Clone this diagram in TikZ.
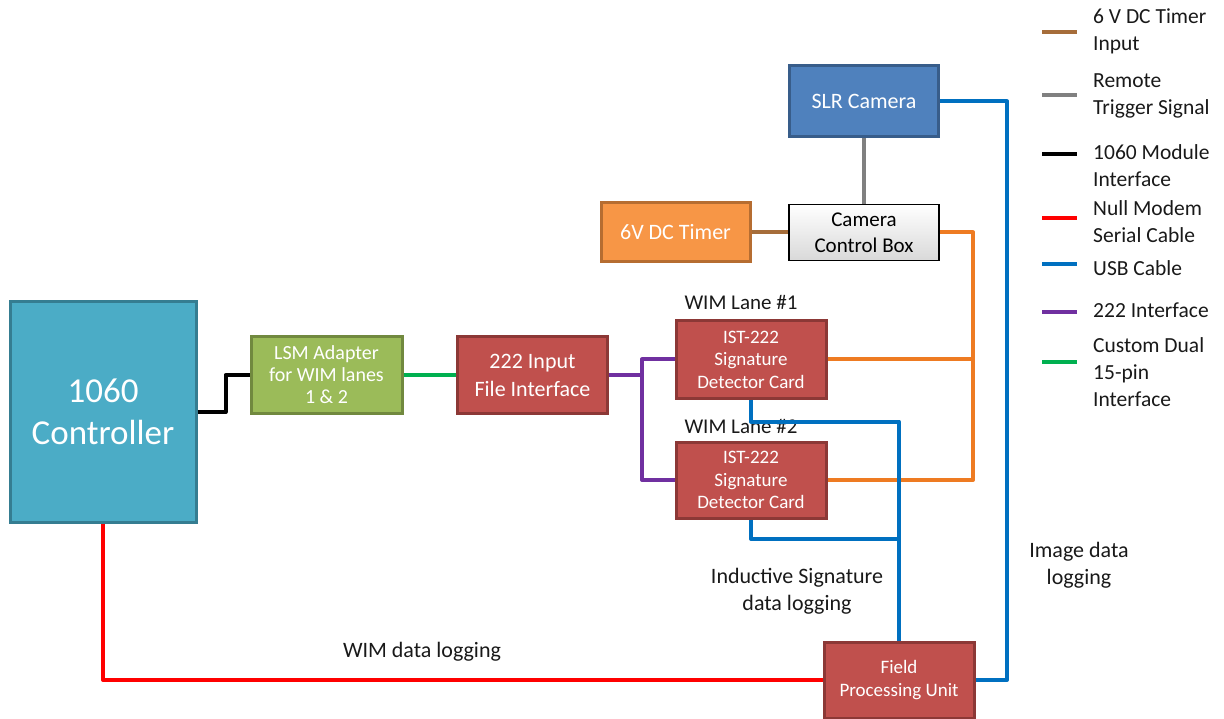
\documentclass[tikz,border=0pt]{standalone}
\usepackage{fontspec}
\setmainfont{Carlito}
\usetikzlibrary{calc}
\definecolor{cAqua}{HTML}{4BACC6}
\definecolor{cAquaD}{HTML}{357D91}
\definecolor{cGreenF}{HTML}{9BBB59}
\definecolor{cGreenD}{HTML}{71893F}
\definecolor{cRedF}{HTML}{C0504D}
\definecolor{cRedD}{HTML}{8C3836}
\definecolor{cBlueF}{HTML}{4F81BD}
\definecolor{cBlueD}{HTML}{385D8A}
\definecolor{cOrgF}{HTML}{F79646}
\definecolor{cOrgD}{HTML}{B66D31}
\definecolor{lBrown}{HTML}{A66D3A}
\definecolor{lGray}{HTML}{808080}
\definecolor{lRed}{HTML}{FF0000}
\definecolor{lBlue}{HTML}{0070C0}
\definecolor{lPurple}{HTML}{7030A0}
\definecolor{lGreen}{HTML}{00B050}
\definecolor{lOrange}{HTML}{EE7B22}
\begin{document}
\begin{tikzpicture}[x=1pt,y=-1pt,
  box/.style={draw, line width=3pt, text=white, align=center, inner sep=0pt},
  ctrlbox/.style={box, fill=cAqua, draw=cAquaD, minimum width=186pt, minimum height=220pt, font=\fontsize{35}{42}\selectfont},
  lsmbox/.style={box, fill=cGreenF, draw=cGreenD, minimum width=151pt, minimum height=76pt, font=\fontsize{20}{22}\selectfont},
  redbox/.style={box, fill=cRedF, draw=cRedD, minimum width=150pt, minimum height=76pt},
  slrbox/.style={box, fill=cBlueF, draw=cBlueD, minimum width=149pt, minimum height=71pt, font=\fontsize{22}{26}\selectfont},
  timerbox/.style={box, fill=cOrgF, draw=cOrgD, minimum width=149pt, minimum height=59pt, font=\fontsize{22}{26}\selectfont},
  ccbox/.style={draw=black, line width=1.8pt, top color=white, bottom color=black!15, align=center, inner sep=0pt, minimum width=150pt, minimum height=56pt, font=\fontsize{21}{26}\selectfont},
  lbl/.style={align=center, text=black!90, font=\fontsize{22}{27}\selectfont},
  leg/.style={anchor=west, align=left, text=black!90, inner sep=0pt, font=\fontsize{21.5}{27}\selectfont},
  wire/.style={line width=4pt, line join=round},
]
\useasboundingbox (0,0) rectangle (1224,719);

% nodes
\node[ctrlbox] (ctrl) at (103,412) {1060\\Controller};
\node[lsmbox] (lsm) at (326.5,375) {LSM Adapter\\for WIM lanes\\1 \& 2};
\node[redbox, font=\fontsize{22}{28}\selectfont] (inp) at (532.5,375) {222 Input\\File Interface};
\node[redbox, minimum height=77pt, font=\fontsize{19}{22.5}\selectfont] (card1) at (751,359.5) {IST-222\\Signature\\Detector Card};
\node[redbox, font=\fontsize{19}{22.5}\selectfont] (card2) at (751,480) {IST-222\\Signature\\Detector Card};
\node[slrbox] (slr) at (864,101.5) {SLR Camera};
\node[ccbox] (ccb) at (864,232.5) {Camera\\Control Box};
\node[timerbox] (timer) at (675.5,232.5) {6V DC Timer};
\node[redbox, font=\fontsize{19}{23}\selectfont] (fpu) at (899,680) {Field\\Processing Unit};

% helper coordinates
\coordinate (pj) at (642,375);
\coordinate (ox) at (973,0);
\coordinate (bx) at (1007,0);
\coordinate (bj) at (899,539);

% labels
\node[lbl, font=\fontsize{21}{27}\selectfont] (l1) at (741,302) {WIM Lane \#1};
\node[lbl, font=\fontsize{21}{27}\selectfont] (l2) at (741,426) {WIM Lane \#2};
\node[lbl] (isd) at (797,591) {Inductive Signature\\data logging};
\node[lbl] (idl) at (1079,565) {Image data\\logging};
\node[lbl] (wdl) at (422,652) {WIM data logging};

% connectors
\begin{scope}[on background layer/.style={}]
\draw[wire, black] (ctrl.east) -- ++(28,0) |- (lsm.west);
\draw[wire, lGreen] (lsm.east) -- (inp.west);
\draw[wire, lPurple] (inp.east) -- (pj);
\draw[wire, lPurple] (card1.west) -| (pj) |- (card2.west);
\draw[wire, lBrown] (timer.east) -- (ccb.west);
\draw[wire, lGray] (slr.south) -- (ccb.north);
\draw[wire, lOrange] (ccb.east) -| (ox |- card2.east) -- (card2.east);
\draw[wire, lOrange] (card1.east) -- (ox |- card1.east);
\draw[wire, lBlue] (card1.south) -- ++(0,22) -| (fpu.north);
\draw[wire, lBlue] (card2.south) |- (bj);
\draw[wire, lBlue] (slr.east) -| (bx |- fpu.east) -- (fpu.east);
\draw[wire, lRed] (ctrl.south) |- (fpu.west);
\end{scope}

% legend
\draw[wire, lBrown] (1042,32) -- (1077,32);
\draw[wire, lGray] (1042,95) -- (1077,95);
\draw[wire, black] (1042,154) -- (1077,154);
\draw[wire, lRed] (1042,218) -- (1077,218);
\draw[wire, lBlue] (1042,264) -- (1077,264);
\draw[wire, lPurple] (1042,312) -- (1077,312);
\draw[wire, lGreen] (1042,362) -- (1077,362);
\node[leg] (g1) at (1093,31.5) {6 V DC Timer\\Input};
\node[leg] (g2) at (1093,96) {Remote\\Trigger Signal};
\node[leg] (g3) at (1093,165.5) {1060 Module\\Interface};
\node[leg] (g4) at (1093,221.5) {Null Modem\\Serial Cable};
\node[leg] (g5) at (1093,268) {USB Cable};
\node[leg] (g6) at (1093,310) {222 Interface};
\node[leg] (g7) at (1093,372.5) {Custom Dual\\15-pin\\Interface};
\end{tikzpicture}
\end{document}
